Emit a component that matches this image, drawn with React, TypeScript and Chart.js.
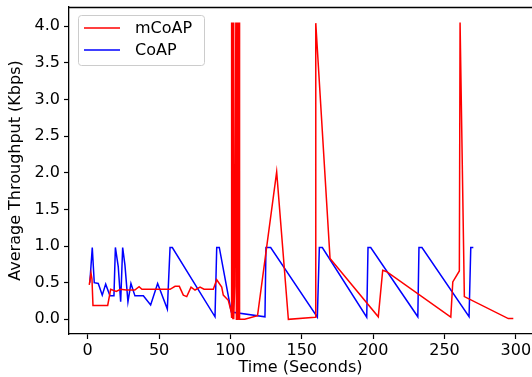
import React, { useEffect, useRef } from "react";
import { Chart, registerables } from "chart.js";

Chart.register(...registerables);

const seriesLabels = ["mCoAP", "CoAP"];
const seriesColors = ["#ff0000", "#0000ff"];

const mcoapTime = [
  1.1, 2.3, 3.0, 3.7, 14.0, 16.1, 20.0, 23.0, 27.0, 33.0, 36.0, 38.0, 57.7, 61.2, 64.2, 67.0, 69.4,
  72.4, 75.2, 78.7, 81.5, 88.0, 90.4, 93.9, 95.0, 98.5, 100.6, 100.7, 101.0, 101.3, 101.7, 102.1,
  102.3, 103.0, 103.8, 104.2, 104.5, 104.9, 105.3, 105.7, 106.1, 106.4, 110.0, 119.0, 132.4, 140.6,
  159.3, 159.8, 169.8, 203.6, 206.7, 209.5, 254.4, 255.8, 260.4, 260.9, 263.9, 294.7, 298.2,
];
const mcoapThroughput = [
  0.47, 0.63, 0.55, 0.19, 0.19, 0.41, 0.38, 0.41, 0.4, 0.4, 0.445, 0.41, 0.41, 0.45, 0.45, 0.33, 0.31,
  0.44, 0.4, 0.44, 0.41, 0.41, 0.54, 0.44, 0.33, 0.26, 0.1, 4.05, 0.02, 4.05, 0.0, 4.05,
  0.0, 0.45, 4.05, 0.0, 4.05, 0.0, 4.05, 0.0, 4.05, 0.0, 0.0, 0.05, 2.01, 0.0,
  0.03, 4.04, 0.83, 0.035, 0.67, 0.65, 0.03, 0.51, 0.66, 4.05, 0.31, 0.01, 0.01,
];

const coapTime = [
  1.5, 3.2, 4.6, 7.4, 10.2, 12.6, 15.6, 18.4, 19.4, 21.4, 23.1, 24.5, 26.1, 28.2, 30.3, 33.1, 39.0,
  44.1, 49.0, 55.8, 57.7, 59.3, 89.2, 90.4, 92.2, 100.6, 124.2, 124.9, 128.2, 160.9, 162.3, 164.4,
  195.5, 196.4, 198.3, 231.3, 232.1, 234.2, 267.2, 268.4, 270.2,
];
const coapThroughput = [
  0.5, 0.98, 0.5, 0.49, 0.33, 0.48, 0.32, 0.32, 0.98, 0.72, 0.24, 0.98, 0.74, 0.24, 0.49, 0.32, 0.32,
  0.195, 0.49, 0.14, 0.98, 0.98, 0.035, 0.98, 0.98, 0.1, 0.035, 0.98, 0.98, 0.03, 0.98, 0.98,
  0.03, 0.98, 0.98, 0.035, 0.98, 0.98, 0.035, 0.98, 0.98,
];

const xTicks = [0, 50, 100, 150, 200, 250, 300];
const yTicks = [0, 0.5, 1, 1.5, 2, 2.5, 3, 3.5, 4];

const xTitle = "Time (Seconds)";
const yTitle = "Average Throughput (Kbps)";

const FONT = "'DejaVu Sans', sans-serif";

const framePlugin = {
  id: "frameAndLegend",
  afterDraw(chart: any) {
    const { ctx, chartArea } = chart;
    ctx.save();
    // top spine
    ctx.strokeStyle = "#000";
    ctx.lineWidth = 1.3;
    ctx.beginPath();
    ctx.moveTo(chartArea.left, chartArea.top + 0.5);
    ctx.lineTo(chartArea.right, chartArea.top + 0.5);
    ctx.stroke();

    // legend box
    const bx = 78.5, by = 15.5, bw = 126, bh = 50;
    ctx.beginPath();
    if (ctx.roundRect) ctx.roundRect(bx, by, bw, bh, 3);
    else ctx.rect(bx, by, bw, bh);
    ctx.fillStyle = "rgba(255,255,255,0.8)";
    ctx.fill();
    ctx.strokeStyle = "#cccccc";
    ctx.lineWidth = 1;
    ctx.stroke();

    chart.data.datasets.forEach((ds: any, i: number) => {
      const y = 28 + i * 22;
      ctx.strokeStyle = ds.borderColor;
      ctx.lineWidth = 1.5;
      ctx.beginPath();
      ctx.moveTo(84, y);
      ctx.lineTo(120, y);
      ctx.stroke();
      ctx.fillStyle = "#000";
      ctx.font = `16px ${FONT}`;
      ctx.textBaseline = "middle";
      ctx.textAlign = "left";
      ctx.fillText(ds.label, 135, y + 1);
    });
    ctx.restore();
  },
};

export default function App() {
  const canvasRef = useRef<HTMLCanvasElement | null>(null);

  useEffect(() => {
    const canvas = canvasRef.current;
    if (!canvas) return;
    const mk = (xs: number[], ys: number[]) => xs.map((x, i) => ({ x, y: ys[i] }));
    const chart = new Chart(canvas, {
      type: "line",
      data: {
        datasets: [
          {
            label: seriesLabels[0],
            data: mk(mcoapTime, mcoapThroughput),
            borderColor: seriesColors[0],
            backgroundColor: seriesColors[0],
            borderWidth: 1.5,
            pointRadius: 0,
            tension: 0,
          },
          {
            label: seriesLabels[1],
            data: mk(coapTime, coapThroughput),
            borderColor: seriesColors[1],
            backgroundColor: seriesColors[1],
            borderWidth: 1.5,
            pointRadius: 0,
            tension: 0,
          },
        ],
      },
      options: {
        animation: false,
        responsive: false,
        maintainAspectRatio: false,
        layout: { padding: { top: 7, right: 0, bottom: 0, left: 0 } },
        plugins: { legend: { display: false }, tooltip: { enabled: false } },
        scales: {
          x: {
            type: "linear",
            min: -13.1,
            max: 311.3,
            afterBuildTicks: (s: any) => {
              s.ticks = xTicks.map((v) => ({ value: v }));
            },
            afterFit: (s: any) => {
              s.height = 43;
              s.paddingLeft = 0;
              s.paddingRight = 0;
            },
            ticks: {
              color: "#000",
              font: { family: FONT, size: 16 },
              padding: 2,
              maxRotation: 0,
              autoSkip: false,
            },
            grid: {
              drawOnChartArea: false,
              drawTicks: true,
              tickLength: 5,
              tickColor: "#000",
              tickWidth: 1.2,
            },
            border: { display: true, color: "#000", width: 1.3 },
            title: {
              display: true,
              text: xTitle,
              color: "#000",
              font: { family: FONT, size: 16 },
              padding: { top: 0, bottom: 0 },
            },
          },
          y: {
            type: "linear",
            min: -0.2,
            max: 4.26,
            afterBuildTicks: (s: any) => {
              s.ticks = yTicks.map((v) => ({ value: v }));
            },
            afterFit: (s: any) => {
              s.width = 69;
              s.paddingTop = 0;
              s.paddingBottom = 0;
            },
            ticks: {
              color: "#000",
              font: { family: FONT, size: 16 },
              padding: 4,
              autoSkip: false,
              callback: (v: any) => Number(v).toFixed(1),
            },
            grid: {
              drawOnChartArea: false,
              drawTicks: true,
              tickLength: 5,
              tickColor: "#000",
              tickWidth: 1.2,
            },
            border: { display: true, color: "#000", width: 1.3 },
            title: {
              display: true,
              text: yTitle,
              color: "#000",
              font: { family: FONT, size: 16 },
              padding: { top: 6, bottom: 0 },
            },
          },
        },
      },
      plugins: [framePlugin],
    } as any);
    return () => chart.destroy();
  }, []);

  return (
    <div style={{ position: "fixed", left: 0, top: 0, width: 532, height: 377, background: "#fff" }}>
      <canvas ref={canvasRef} width={532} height={377} style={{ display: "block" }} />
    </div>
  );
}
